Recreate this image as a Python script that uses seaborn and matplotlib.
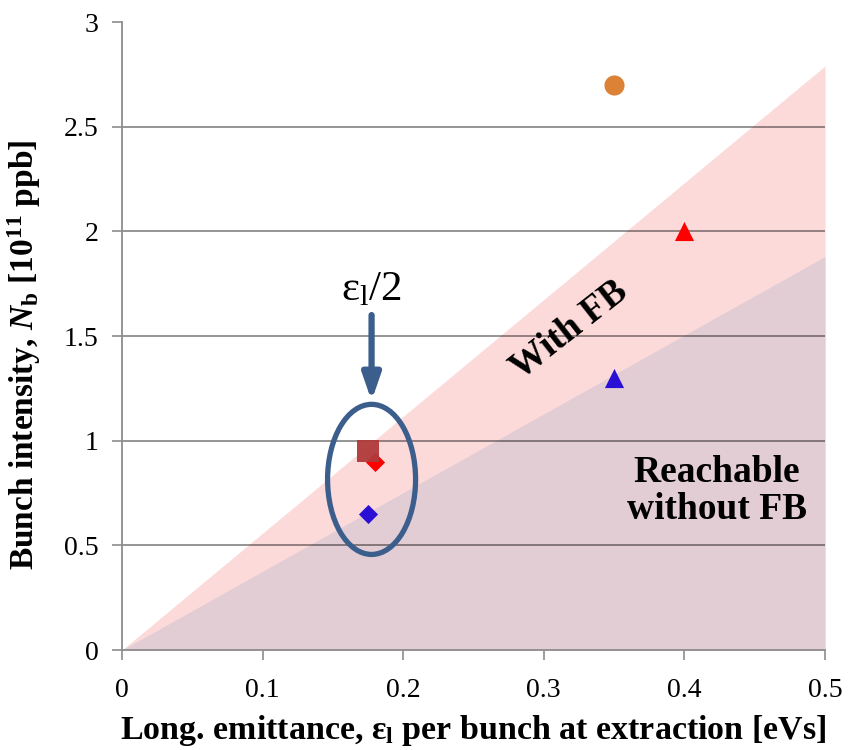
import matplotlib
matplotlib.use("Agg")
import matplotlib.pyplot as plt
from matplotlib.patches import Ellipse
import pandas as pd
import seaborn as sns

# Intensity limits vs. longitudinal emittance (straight lines through origin)
limit_x = [0.0, 0.5]
limit_with_fb = [0.0, 2.79]
limit_without_fb = [0.0, 1.88]

# Measured / required beam parameters
pt_x = [0.35, 0.40, 0.35, 0.175, 0.18, 0.175]
pt_y = [2.70, 2.00, 1.30, 0.95, 0.90, 0.65]
pt_group = ["circle", "red_tri", "blue_tri", "square", "red_dia", "blue_dia"]

x_ticks = [0, 0.1, 0.2, 0.3, 0.4, 0.5]
x_tick_labels = ["0", "0.1", "0.2", "0.3", "0.4", "0.5"]
y_ticks = [0, 0.5, 1, 1.5, 2, 2.5, 3]
y_tick_labels = ["0", "0.5", "1", "1.5", "2", "2.5", "3"]

sns.set_theme(style="white")
plt.rcParams["font.family"] = ["Liberation Serif", "DejaVu Serif"]
plt.rcParams["text.color"] = "black"
plt.rcParams["axes.labelcolor"] = "black"
plt.rcParams["mathtext.fontset"] = "custom"
plt.rcParams["mathtext.rm"] = "Liberation Serif"
plt.rcParams["mathtext.it"] = "Liberation Serif:italic"
plt.rcParams["mathtext.bf"] = "Liberation Serif:bold"
plt.rcParams["mathtext.bfit"] = "Liberation Serif:bold:italic"

fig = plt.figure(figsize=(8.48, 7.5), dpi=100)
ax = fig.add_axes([122 / 848, 1 - 650 / 750, 703 / 848, 628 / 750])

ax.fill_between(limit_x, 0, limit_with_fb, color="#FDDADA", lw=0, zorder=1)
ax.fill_between(limit_x, 0, limit_without_fb, color="#E2CDD5", lw=0, zorder=1.1)

for yv in y_ticks[1:-1]:
    ax.axhline(yv, color="black", alpha=0.45, lw=1.3, zorder=2)

df = pd.DataFrame({"x": pt_x, "y": pt_y, "group": pt_group})
palette = {"circle": "#DC8236", "red_tri": "#FF0000", "blue_tri": "#2A10D4",
           "square": "#B03A3A", "red_dia": "#FF0000", "blue_dia": "#2A10D4"}
markers = {"circle": "o", "red_tri": "^", "blue_tri": "^",
           "square": "s", "red_dia": "D", "blue_dia": "D"}
sizes = {"circle": 210, "red_tri": 190, "blue_tri": 190,
         "square": 260, "red_dia": 95, "blue_dia": 95}
order = ["circle", "red_tri", "blue_tri", "red_dia", "blue_dia", "square"]
for g in order:
    sub = df[df["group"] == g]
    sns.scatterplot(data=sub, x="x", y="y", ax=ax, color=palette[g], marker=markers[g],
                    s=sizes[g], linewidth=0, legend=False, zorder=4,
                    alpha=0.95 if g == "square" else 1.0)

ax.set_xlim(0, 0.5)
ax.set_ylim(0, 3)
ax.set_xticks(x_ticks)
ax.set_xticklabels(x_tick_labels)
ax.set_yticks(y_ticks)
ax.set_yticklabels(y_tick_labels)
ax.tick_params(axis="both", labelsize=20, labelcolor="black", length=7, width=1.2,
               direction="out", color="#8C8C8C")
ax.tick_params(axis="x", pad=13)
ax.tick_params(axis="y", pad=10)
ax.xaxis.set_ticks_position("bottom")
ax.yaxis.set_ticks_position("left")
for side in ["top", "right"]:
    ax.spines[side].set_visible(False)
for side in ["left", "bottom"]:
    ax.spines[side].set_color("#8C8C8C")
    ax.spines[side].set_linewidth(1.3)
ax.spines["left"].set_zorder(3)
ax.set_facecolor("white")

ax.set_xlabel(r"Long. emittance, $\mathbf{\varepsilon_l}$ per bunch at extraction [eVs]",
              fontsize=24.5, fontweight="bold", labelpad=7)
ax.set_ylabel(r"Bunch intensity, $\mathbfit{N}_\mathbf{b}$ [10$^{\mathbf{11}}$ ppb]",
              fontsize=24, fontweight="bold")
ax.yaxis.set_label_coords(-0.112, 0.47)

# Highlight ellipse with arrow and label
ell = Ellipse((0.1775, 0.815), width=0.0626, height=0.717, fill=False,
              edgecolor="#3B5E8C", lw=3.8, zorder=5)
ax.add_patch(ell)
ax.annotate("", xy=(0.1775, 1.19), xytext=(0.1775, 1.60),
            arrowprops=dict(arrowstyle="-|>,head_length=1.3,head_width=0.45",
                            color="#3B5E8C", lw=4.5, shrinkA=0, shrinkB=0), zorder=5)
ax.text(0.1775, 1.672, r"$\mathregular{\varepsilon_l}$/2", fontsize=31,
        ha="center", va="baseline", color="black", zorder=6)

ax.text(0.318, 1.53, "With FB", fontsize=27, fontweight="bold", rotation=38,
        ha="center", va="center", rotation_mode="anchor", zorder=6)
ax.text(0.423, 0.76, "Reachable\nwithout FB", fontsize=27, fontweight="bold",
        ha="center", va="center", linespacing=1.1, zorder=6)

fig.savefig("out.png", dpi=100)
